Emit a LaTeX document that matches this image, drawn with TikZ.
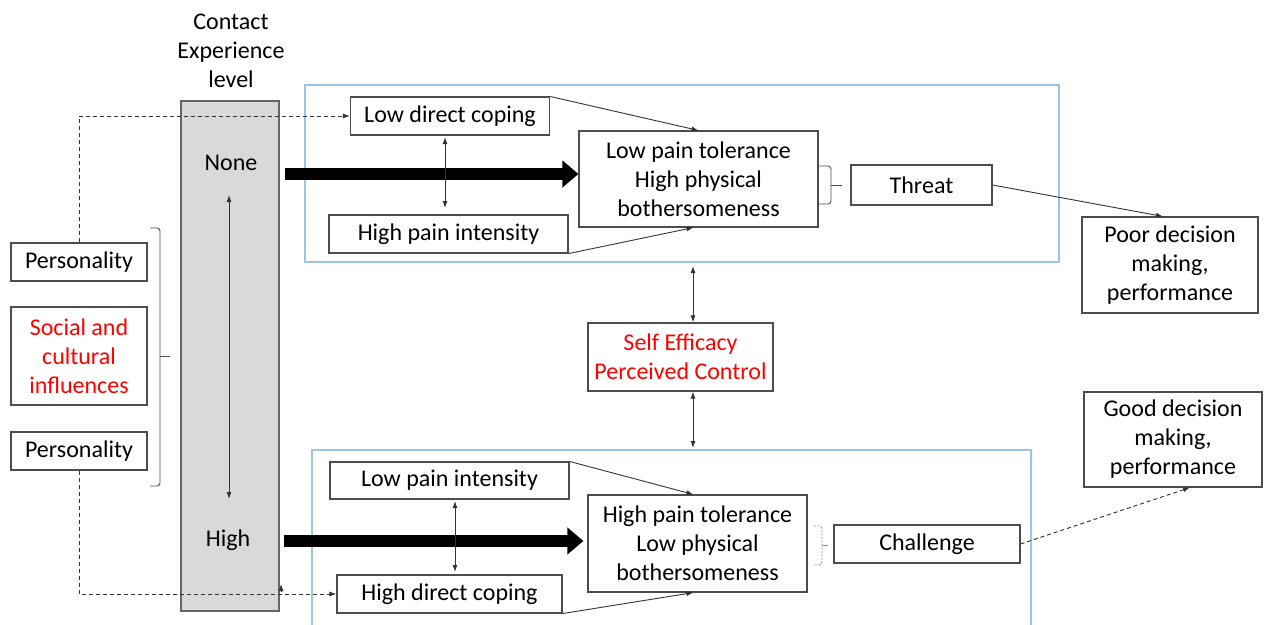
\documentclass[tikz,border=0pt]{standalone}
\usepackage{fontspec}
\setmainfont{Carlito}
\usetikzlibrary{arrows.meta}
\definecolor{zoneblue}{HTML}{9DC3E6}
\definecolor{colgray}{HTML}{D9D9D9}
\definecolor{textred}{HTML}{FF0000}
\tikzset{
 box/.style={draw=black!70,line width=1.1pt,align=center,inner sep=0pt,font=\fontsize{24}{29}\selectfont},
 lbl/.style={align=center,inner sep=0pt,font=\fontsize{24}{29}\selectfont},
 zone/.style={draw=zoneblue,line width=1.2pt},
 link/.style={draw=black!80,line width=0.9pt,-{Latex[length=7pt,width=5pt]}},
 twoway/.style={draw=black!80,line width=0.9pt,{Latex[length=7pt,width=5pt]}-{Latex[length=7pt,width=5pt]}},
 dlink/.style={link,dash pattern=on 4pt off 3pt},
 fat/.style={line width=12pt,-{Triangle[length=16pt,width=26pt]}},
 brace/.style={draw=black!70,line width=0.9pt,rounded corners=3pt}
}
\begin{document}
\begin{tikzpicture}[x=1pt,y=-1pt]
 \useasboundingbox (0,0) rectangle (1265,624);
 \draw[zone] (305,85) rectangle (1059,262);
 \draw[zone] (312,450) rectangle (1031,640);
 \node[draw=black!60,line width=1.1pt,fill=colgray,minimum width=98,minimum height=510,inner sep=0pt] (col) at (230,356) {};
 \node[lbl] (title) at (231,51) {Contact\\Experience\\level};
 \node[lbl] (none) at (231,163) {None};
 \node[lbl] (high) at (228,540) {High};
 \coordinate (cu) at (229,195);
 \coordinate (cd) at (229,499);
 \draw[twoway] (cu) -- (cd);

 \node[box,minimum width=136,minimum height=38] (pers1) at (79,262) {Personality};
 \node[box,minimum width=136,minimum height=98,text=textred] (soc) at (79,356) {Social and\\cultural\\influences};
 \node[box,minimum width=136,minimum height=38] (pers2) at (79,451) {Personality};
 \draw[brace] (150,228) -| (160,486) -- (150,486);
 \draw[brace] (160,356) -- (170,356);

 \node[box,minimum width=199,minimum height=38] (ldc) at (450,116) {Low direct coping};
 \node[box,minimum width=239,minimum height=38] (hpi) at (448.5,234) {High pain intensity};
 \node[box,minimum width=239,minimum height=96] (lpt) at (698.5,179) {Low pain tolerance\\High physical\\bothersomeness};
 \node[box,minimum width=141,minimum height=40] (threat) at (921.5,185) {Threat};
 \node[box,minimum width=176,minimum height=96] (poor) at (1170,265) {Poor decision\\making,\\performance};
 \node[box,minimum width=185,minimum height=68,text=textred] (se) at (680.5,357) {Self Efficacy\\Perceived Control};
 \node[box,minimum width=239,minimum height=37] (lpi) at (449.5,480.5) {Low pain intensity};
 \node[box,minimum width=225,minimum height=38] (hdc) at (449.5,594) {High direct coping};
 \node[box,minimum width=219,minimum height=97] (hpt) at (697.5,543.5) {High pain tolerance\\Low physical\\bothersomeness};
 \node[box,minimum width=186,minimum height=38] (chal) at (927,544) {Challenge};
 \node[box,minimum width=178,minimum height=95] (good) at (1173,439.5) {Good decision\\making,\\performance};

 \draw[dlink] (pers1.north) |- (ldc.west);
 \draw[dlink] (pers2.south) |- (hdc.west);
 \draw[link] (281,592) -- (281,584);

 \draw[fat] (285,174) -- (lpt.west |- 0,174);
 \draw[fat] (284,541) -- ([xshift=-4]hpt.west |- 0,541);

 \draw[link] (ldc.north east) -- (lpt.north);
 \draw[link] (hpi.south east) -- ([xshift=-5]lpt.south);
 \draw[twoway] (445,137) -- (445,208);
 \draw[brace] (819,166) -| (831,204) -- (819,204);
 \draw[brace] (831,185) -- (842,185);
 \draw[link] (threat.east) -- ([xshift=-7]poor.north);

 \draw[twoway] (693,266) -- ([xshift=12.5]se.north);
 \draw[twoway] ([xshift=12.5]se.south) -- (693,448);

 \draw[link] (lpi.north east) -- ([xshift=-4]hpt.north);
 \draw[link] (hdc.south east) -- ([xshift=-4]hpt.south);
 \draw[twoway] (455,501) -- (455,572);
 \draw[brace,draw=black!45,dash pattern=on 2pt off 1.5pt] (814,526) -| (822,565) -- (814,565);
 \draw[brace,draw=black!45] (822,545) -- (828,545);
 \draw[dlink] (chal.east) -- ([xshift=17]good.south);
\end{tikzpicture}
\end{document}
